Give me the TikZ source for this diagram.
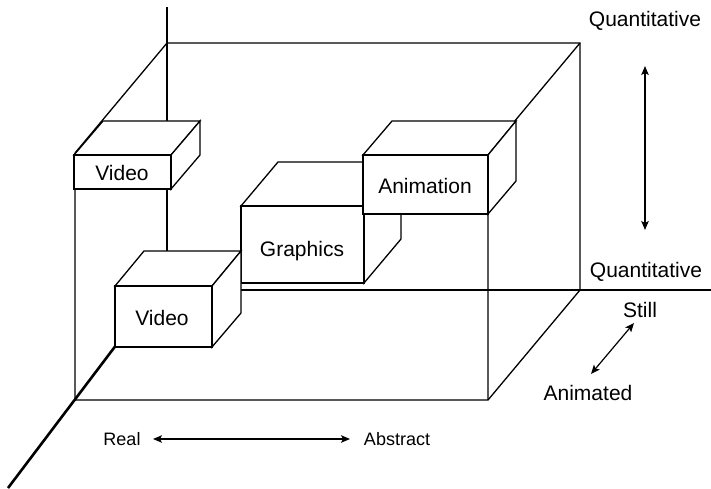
\documentclass[tikz,border=0pt]{standalone}
\usepackage{fontspec}
\setmainfont{Liberation Sans}
\usetikzlibrary{arrows.meta}
\begin{document}
\begin{tikzpicture}[x=1pt,y=-1pt,
  thinline/.style={line width=1.3pt, line join=miter},
  axisline/.style={line width=2.6pt},
  face/.style={thinline, draw=black, fill=white},
  lbl/.style={font=\fontsize{21}{25}\selectfont, anchor=base, inner sep=0pt},
  smalllbl/.style={font=\fontsize{18}{22}\selectfont, anchor=base, inner sep=0pt},
  dblarrow/.style={line width=1.2pt, {Stealth[length=9pt,width=7.5pt,inset=2pt]}-{Stealth[length=9pt,width=7.5pt,inset=2pt]}}
]
\useasboundingbox (0,0) rectangle (711,489);

% frame
\coordinate (BTL) at (167,43);
\coordinate (BTR) at (580,43);
\coordinate (BBR) at (580,290);
\coordinate (FTL) at (75,153);
\coordinate (FTR) at (488,153);
\coordinate (FBL) at (75,400);
\coordinate (FBR) at (488,400);
\draw[thinline] (FTL) -- (BTL) -- (BTR) -- (BBR);
\draw[thinline] (BTR) -- (FTR) -- (FBR);
\draw[thinline] (FTL) -- (FBL) -- (FBR) -- (BBR);

% axes
\coordinate (O) at (167,290);
\coordinate (ytop) at (167,7);
\coordinate (xend) at (711,290);
\coordinate (zend) at (8,488);
\coordinate (zmid) at (126,332);
\draw[axisline] (ytop) -- (O);
\draw[axisline] (O) -- (xend);
\draw[axisline] (zend) -- (zmid);

% Graphics box
\filldraw[face] (241,206) -- (278,162) -- (401,162) -- (364,206) -- cycle;
\filldraw[face] (364,206) -- (401,162) -- (401,239) -- (364,283) -- cycle;
\filldraw[face] (241,206) rectangle (364,283);

% Animation box
\filldraw[face] (363,155) -- (392,121) -- (516,121) -- (488,155) -- cycle;
\filldraw[face] (488,155) -- (516,121) -- (516,181) -- (488,214) -- cycle;
\filldraw[face] (363,155) rectangle (488,214);

% lower Video box
\filldraw[face] (115,286) -- (144,251) -- (241,251) -- (212,286) -- cycle;
\filldraw[face] (212,286) -- (241,251) -- (241,313) -- (212,347) -- cycle;
\filldraw[face] (115,286) rectangle (212,347);

% upper Video box
\filldraw[face] (74,155) -- (103,121) -- (200,121) -- (171,155) -- cycle;
\filldraw[face] (171,155) -- (200,121) -- (200,155) -- (171,189) -- cycle;
\filldraw[face] (74,155) rectangle (171,189);

% box labels
\node[lbl] (video1) at (122,180) {Video};
\node[lbl] (video2) at (162,325) {Video};
\node[lbl] (graphics) at (302,256) {Graphics};
\node[lbl] (animation) at (425,193) {Animation};

% axis labels
\node[lbl] (quant1) at (645,27) {Quantitative};
\node[lbl] (quant2) at (646,277) {Quantitative};
\node[lbl] (still) at (640,317) {Still};
\node[lbl] (animated) at (588,400) {Animated};
\node[smalllbl] (real) at (122,445) {Real};
\node[smalllbl] (abstract) at (397,445) {Abstract};

% arrows
\coordinate (qa) at (645,66);
\coordinate (qb) at (645,230);
\coordinate (sa) at (634,323);
\coordinate (sb) at (591,374);
\coordinate (ra) at (153,439);
\coordinate (rb) at (350,439);
\draw[dblarrow] (qa) -- (qb);
\draw[dblarrow] (sa) -- (sb);
\draw[dblarrow] (ra) -- (rb);
\end{tikzpicture}
\end{document}
